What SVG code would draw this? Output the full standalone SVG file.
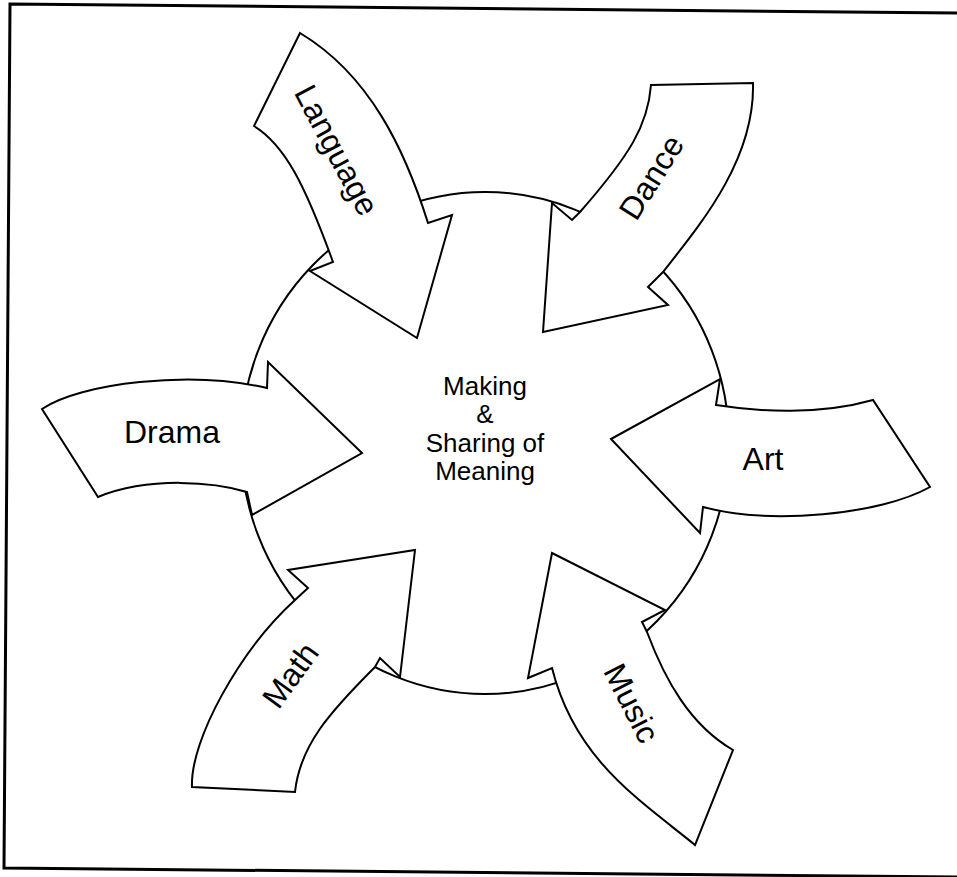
<svg xmlns="http://www.w3.org/2000/svg" width="957" height="877" viewBox="0 0 957 877">
<style>
.bg{fill:#ffffff}
.frame{fill:none;stroke:#000;stroke-width:3}
.hub{fill:#ffffff;stroke:#000;stroke-width:2}
.arrow{fill:#ffffff;stroke:#000;stroke-width:2;stroke-linejoin:miter}
.lbl{font-family:"Liberation Sans",Arial,sans-serif;font-size:32px;fill:#000;text-anchor:middle}
.ctr{font-family:"Liberation Sans",Arial,sans-serif;font-size:26px;fill:#000;text-anchor:middle}
</style>
<rect class="bg" x="0" y="0" width="957" height="877"/>
<path class="frame" d="M957,13 L10,4 L4,868 L957,877"/>
<g id="hub">
<ellipse class="hub" cx="485" cy="443" rx="244" ry="251"/>
</g>
<g id="connectors">
<g id="arrow-language">
<path class="arrow" d="M300,33 L254,126 C285,145 305,185 333,262 L310,271 L417,338 L452,215 L428,223 C405,150 370,75 300,33 Z"/>
<text class="lbl" transform="translate(337,150) rotate(62)" y="11.5">Language</text>
</g>
<g id="arrow-dance">
<path class="arrow" d="M651,85 C648,125 630,155 580,212 L572,220 L552,203 L543,332 L668,305 L648,287 L663,272 C700,225 755,160 753,83 Z"/>
<text class="lbl" transform="translate(651,177) rotate(-58)" y="11.5">Dance</text>
</g>
<g id="arrow-drama">
<path class="arrow" d="M42,409 C80,383 190,370 267,388 L268,362 L362,453 L252,515 L247,492 C215,482 150,476 98,497 Z"/>
<text class="lbl" x="172" y="443">Drama</text>
</g>
<g id="arrow-art">
<path class="arrow" d="M611,439 L720,379 L716,405 C760,412 820,415 873,400 L930,487 C880,515 770,525 703,507 L700,533 Z"/>
<text class="lbl" x="763" y="470">Art</text>
</g>
<g id="arrow-math">
<path class="arrow" d="M192,787 C190,740 240,650 295,600 L308,588 L288,570 L415,550 L400,677 L380,658 L375,667 C330,712 300,745 295,792 Z"/>
<text class="lbl" transform="translate(290,675) rotate(-54)" y="11.5">Math</text>
</g>
<g id="arrow-music">
<path class="arrow" d="M552,553 L665,610 L642,622 L647,632 C665,680 690,725 733,750 L695,845 C640,800 575,760 552,668 L528,678 Z"/>
<text class="lbl" transform="translate(632,703) rotate(63)" y="11.5">Music</text>
</g>
</g>
<g id="hub-label">
<text class="ctr" x="485" y="395">Making</text>
<text class="ctr" x="485" y="423">&amp;</text>
<text class="ctr" x="485" y="452">Sharing of</text>
<text class="ctr" x="485" y="480">Meaning</text>
</g>
</svg>
